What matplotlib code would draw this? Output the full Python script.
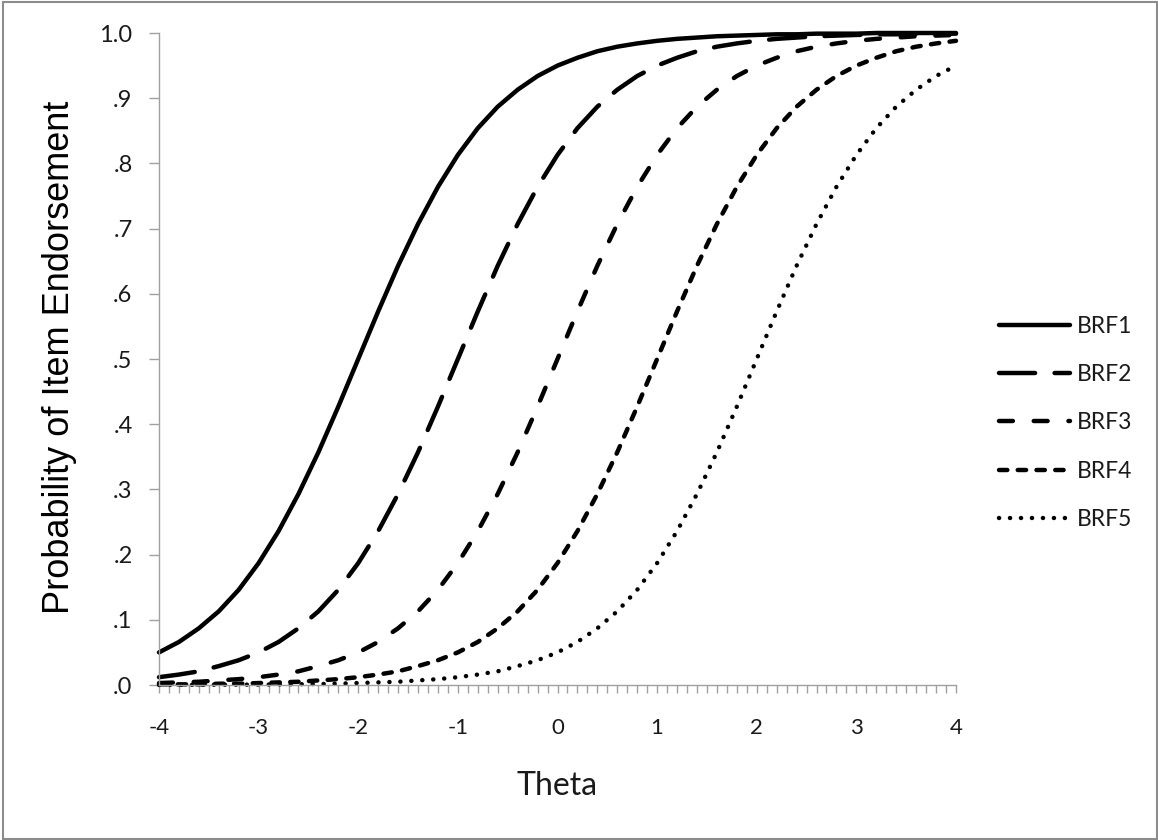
import matplotlib
matplotlib.use("Agg")
import matplotlib.pyplot as plt
from matplotlib.patches import Rectangle

# Item characteristic values for five boundary response functions
theta = [-4.0, -3.8, -3.6, -3.4, -3.2, -3.0, -2.8, -2.6, -2.4, -2.2,
         -2.0, -1.8, -1.6, -1.4, -1.2, -1.0, -0.8, -0.6, -0.4, -0.2,
         0.0, 0.2, 0.4, 0.6, 0.8, 1.0, 1.2, 1.4, 1.6, 1.8,
         2.0, 2.2, 2.4, 2.6, 2.8, 3.0, 3.2, 3.4, 3.6, 3.8, 4.0]

brf1 = [0.050, 0.066, 0.087, 0.113, 0.146, 0.187, 0.236, 0.293, 0.357, 0.427,
        0.500, 0.573, 0.643, 0.707, 0.764, 0.813, 0.854, 0.887, 0.913, 0.934,
        0.950, 0.962, 0.972, 0.979, 0.984, 0.988, 0.991, 0.993, 0.995, 0.996,
        0.997, 0.998, 0.998, 0.999, 0.999, 0.999, 1.000, 1.000, 1.000, 1.000, 1.000]

brf2 = [0.012, 0.016, 0.021, 0.029, 0.038, 0.050, 0.066, 0.087, 0.113, 0.146,
        0.187, 0.236, 0.293, 0.357, 0.427, 0.500, 0.573, 0.643, 0.707, 0.764,
        0.813, 0.854, 0.887, 0.913, 0.934, 0.950, 0.962, 0.972, 0.979, 0.984,
        0.988, 0.991, 0.993, 0.995, 0.996, 0.997, 0.998, 0.998, 0.999, 0.999, 0.999]

brf3 = [0.003, 0.004, 0.005, 0.007, 0.009, 0.012, 0.016, 0.021, 0.029, 0.038,
        0.050, 0.066, 0.087, 0.113, 0.146, 0.187, 0.236, 0.293, 0.357, 0.427,
        0.500, 0.573, 0.643, 0.707, 0.764, 0.813, 0.854, 0.887, 0.913, 0.934,
        0.950, 0.962, 0.972, 0.979, 0.984, 0.988, 0.991, 0.993, 0.995, 0.996, 0.997]

brf4 = [0.001, 0.001, 0.001, 0.002, 0.002, 0.003, 0.004, 0.005, 0.007, 0.009,
        0.012, 0.016, 0.021, 0.029, 0.038, 0.050, 0.066, 0.087, 0.113, 0.146,
        0.187, 0.236, 0.293, 0.357, 0.427, 0.500, 0.573, 0.643, 0.707, 0.764,
        0.813, 0.854, 0.887, 0.913, 0.934, 0.950, 0.962, 0.972, 0.979, 0.984, 0.988]

brf5 = [0.0001, 0.0002, 0.0003, 0.0004, 0.0005, 0.0006, 0.0009, 0.0012, 0.0015, 0.0021,
        0.003, 0.004, 0.005, 0.007, 0.009, 0.012, 0.016, 0.021, 0.029, 0.038,
        0.050, 0.066, 0.087, 0.113, 0.146, 0.187, 0.236, 0.293, 0.357, 0.427,
        0.500, 0.573, 0.643, 0.707, 0.764, 0.813, 0.854, 0.887, 0.913, 0.934, 0.950]

series_names = ["BRF1", "BRF2", "BRF3", "BRF4", "BRF5"]
x_tick_labels = ["-4", "-3", "-2", "-1", "0", "1", "2", "3", "4"]
y_tick_labels = [".0", ".1", ".2", ".3", ".4", ".5", ".6", ".7", ".8", ".9", "1.0"]

plt.rcParams["lines.scale_dashes"] = False
plt.rcParams["font.family"] = ["Lato", "DejaVu Sans"]

W, H = 1158, 840
fig = plt.figure(figsize=(W / 100, H / 100), dpi=100)
ax = fig.add_axes([159 / W, 1 - 685 / H, (956 - 159) / W, (685 - 33) / H])

styles = [
    "-",
    (0, (26, 14)),
    (0, (10, 15)),
    (0, (6, 7.5)),
    (0, (0.1, 7.8)),
]
lw = 3.2
for vals, name, ls in zip([brf1, brf2, brf3, brf4, brf5], series_names, styles):
    ax.plot(theta, vals, color="black", lw=lw, linestyle=ls, label=name,
            dash_capstyle="round", solid_capstyle="round", clip_on=False)

ax.set_xlim(-4, 4)
ax.set_ylim(0, 1)

spine_col = "#a0a0a0"
for s in ["top", "right"]:
    ax.spines[s].set_visible(False)
for s in ["left", "bottom"]:
    ax.spines[s].set_color(spine_col)
    ax.spines[s].set_linewidth(1.0)

ax.set_xticks([float(t) for t in x_tick_labels])
ax.set_xticklabels(x_tick_labels)
ax.set_xticks([i / 10 - 4 for i in range(81)], minor=True)
ax.set_yticks([i / 10 for i in range(11)])
ax.set_yticklabels(y_tick_labels)

ax.tick_params(axis="x", which="both", direction="out", length=6, width=1.0,
               color=spine_col, pad=18, labelsize=16, labelcolor="#1a1a1a")
ax.tick_params(axis="y", which="both", direction="out", length=7, width=1.0,
               color=spine_col, pad=12, labelsize=17, labelcolor="#1a1a1a")

fig.text(557 / W, 1 - 786 / H, "Theta", fontsize=23,
         color="#1a1a1a", ha="center", va="center")

fig.text(60 / W, 1 - 357 / H, "Probability of Item Endorsement",
         fontfamily="Liberation Sans", fontsize=26, color="black",
         rotation=90, ha="center", va="center")

leg = fig.legend(loc="center left", bbox_to_anchor=(999 / W, 1 - 423 / H),
                 frameon=False, prop={"size": 16.5},
                 handlelength=3.1, handletextpad=0.3, labelspacing=1.18,
                 borderaxespad=0, borderpad=0)
for t in leg.get_texts():
    t.set_color("#1a1a1a")

fig.add_artist(Rectangle((2.5 / W, 1.5 / H), (1156.5 - 2.5) / W, (838.5 - 1.5) / H,
                         transform=fig.transFigure, fill=False,
                         edgecolor="#8c8c8c", linewidth=1.5))

fig.savefig("out.png", dpi=100)
